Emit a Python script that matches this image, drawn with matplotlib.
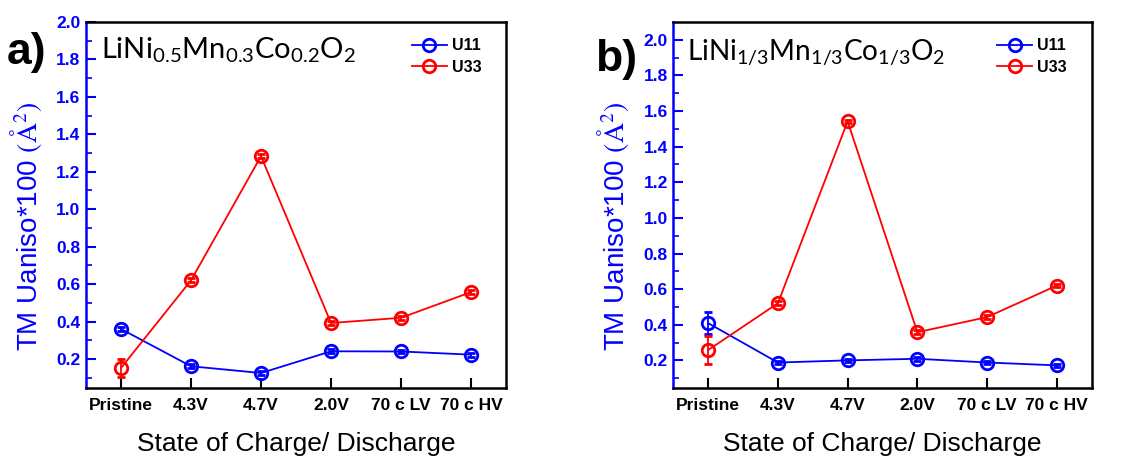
import matplotlib
matplotlib.use("Agg")
import matplotlib.pyplot as plt
from matplotlib.lines import Line2D
import numpy as np

plt.rcParams['font.family'] = ['Liberation Sans', 'DejaVu Sans']
plt.rcParams['mathtext.fontset'] = 'stix'

states = ['Pristine', '4.3V', '4.7V', '2.0V', '70 c LV', '70 c HV']

# LiNi0.5Mn0.3Co0.2O2
u11_a = [0.36, 0.161, 0.125, 0.241, 0.24, 0.223]
u11_a_err = [0.01, 0.01, 0.01, 0.01, 0.01, 0.01]
u33_a = [0.152, 0.62, 1.283, 0.392, 0.42, 0.557]
u33_a_err = [0.048, 0.01, 0.01, 0.01, 0.01, 0.01]

# LiNi1/3Mn1/3Co1/3O2
u11_b = [0.409, 0.188, 0.2, 0.209, 0.188, 0.172]
u11_b_err = [0.063, 0.01, 0.01, 0.01, 0.01, 0.01]
u33_b = [0.258, 0.521, 1.542, 0.358, 0.443, 0.62]
u33_b_err = [0.08, 0.01, 0.01, 0.01, 0.01, 0.01]

BLUE = '#0000ff'
RED = '#ff0000'

fig = plt.figure(figsize=(11.32, 4.57), dpi=100)
ax_a = fig.add_axes([0.076, 0.151, 0.371, 0.801])
ax_b = fig.add_axes([0.5948, 0.151, 0.3696, 0.801])

MARKER = dict(marker='o', markersize=9, markerfacecolor='none',
              markeredgewidth=2.0, linewidth=1.3)


def draw_panel(ax, u11, u11_err, u33, u33_err, ylim, formula, fx, fy,
               label_x, formula_size):
    x = np.arange(len(states))
    ax.errorbar(x, u11, yerr=u11_err, color=BLUE, capsize=3,
                elinewidth=1.3, capthick=1.3, **MARKER)
    ax.errorbar(x, u33, yerr=u33_err, color=RED, capsize=3,
                elinewidth=1.3, capthick=1.3, **MARKER)

    ax.set_xlim(-0.5, len(states) - 0.5)
    ax.set_ylim(*ylim)
    ax.set_xticks(x)
    ax.set_xticklabels(states, fontsize=12.5, fontweight='bold')
    ax.set_yticks(np.arange(0.2, 2.01, 0.2))
    ax.set_yticks(np.arange(0.1, ylim[1], 0.1), minor=True)
    ax.yaxis.set_major_formatter(plt.FormatStrFormatter('%.1f'))
    for lbl in ax.get_yticklabels():
        lbl.set_fontweight('bold')
        lbl.set_color(BLUE)
        lbl.set_fontsize(12.5)

    ax.tick_params(axis='x', direction='in', length=7, width=1.5, pad=7)
    ax.tick_params(axis='y', which='major', direction='in', length=7,
                   width=1.5, colors=BLUE, labelcolor=BLUE, pad=4)
    ax.tick_params(axis='y', which='minor', direction='in', length=4,
                   width=1.2, colors=BLUE)

    for side in ['top', 'right', 'bottom']:
        ax.spines[side].set_linewidth(1.8)
        ax.spines[side].set_color('black')
    ax.spines['left'].set_linewidth(1.8)
    ax.spines['left'].set_color(BLUE)

    ax.set_xlabel('State of Charge/ Discharge', fontsize=19, labelpad=14)
    ax.set_ylabel(r'TM Uaniso*100 $(\mathrm{\AA}^2)$', fontsize=20,
                  color=BLUE)
    ax.yaxis.set_label_coords(label_x, 0.443)

    ax.text(fx, fy, formula, transform=ax.transAxes, fontsize=formula_size,
            family='Lato', va='center', ha='left')

    handles = [Line2D([], [], color=BLUE, **MARKER),
               Line2D([], [], color=RED, **MARKER)]
    leg = ax.legend(handles, ['U11', 'U33'], loc='upper right',
                    frameon=False, fontsize=11.5, handlelength=2.2,
                    handletextpad=0.3, labelspacing=0.4,
                    borderaxespad=0.5, bbox_to_anchor=(0.975, 0.995))
    for t in leg.get_texts():
        t.set_fontweight('bold')


draw_panel(ax_a, u11_a, u11_a_err, u33_a, u33_a_err, (0.045, 2.0),
           r'$\mathregular{LiNi_{0.5}Mn_{0.3}Co_{0.2}O_2}$', 0.035, 0.922,
           -0.10, 21)
draw_panel(ax_b, u11_b, u11_b_err, u33_b, u33_b_err, (0.045, 2.1),
           r'$\mathregular{LiNi_{1/3}Mn_{1/3}Co_{1/3}O_2}$', 0.032, 0.915,
           -0.10, 20.2)

fig.text(0.006, 0.885, 'a)', fontsize=32, fontweight='bold', va='center')
fig.text(0.526, 0.87, 'b)', fontsize=32, fontweight='bold', va='center')

fig.savefig('out.png', dpi=100)
